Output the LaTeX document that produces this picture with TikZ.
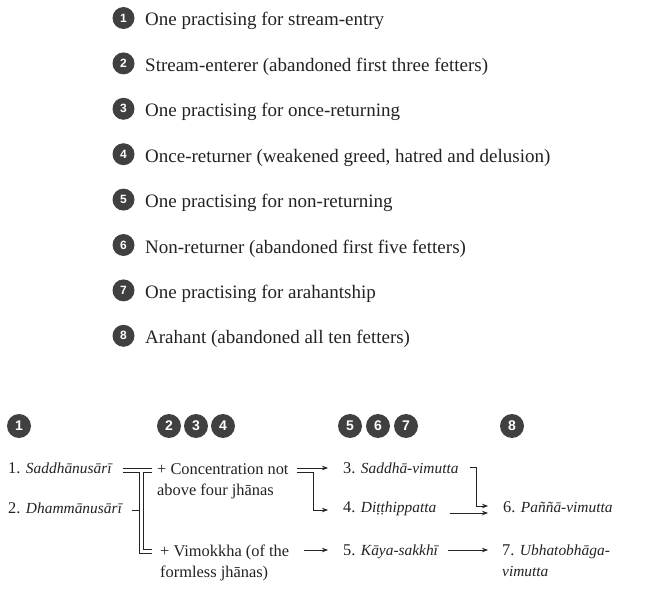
\documentclass[tikz,border=0pt]{standalone}
\usepackage{fontspec}
\setmainfont{Liberation Serif}[ItalicFeatures={Scale=0.94}]
\newfontfamily\numfont{Liberation Sans}
\usetikzlibrary{arrows.meta,calc}
\definecolor{badge}{HTML}{404040}
\definecolor{ink}{HTML}{222222}

\begin{document}
\begin{tikzpicture}[x=1pt,y=-1pt,
  num/.style={circle,fill=badge,text=white,inner sep=0pt,minimum size=22pt,
    font=\numfont\bfseries\fontsize{12}{12}\selectfont},
  bignum/.style={num,minimum size=24pt,font=\numfont\bfseries\fontsize{14}{14}\selectfont},
  item/.style={anchor=base west,inner sep=0pt,text=ink,font=\fontsize{19}{22}\selectfont},
  term/.style={anchor=base west,inner sep=0pt,align=left,text=ink,font=\fontsize{16.4}{21}\selectfont},
  wire/.style={line width=0.8pt,draw=ink},
  link/.style={wire,-{Stealth[length=6pt,width=4.5pt]}}]
\useasboundingbox (0,0) rectangle (657,610);

% the eight stages
\foreach \txt [count=\i] in {One practising for stream-entry,
    Stream-enterer (abandoned first three fetters),
    One practising for once-returning,
    {Once-returner (weakened greed, hatred and delusion)},
    One practising for non-returning,
    Non-returner (abandoned first five fetters),
    One practising for arahantship,
    Arahant (abandoned all ten fetters)}{
  \node[num] (s\i) at (123.5,{18+45.4*(\i-1)}) {\i};
  \node[item] (t\i) at (145,{26+45.4*(\i-1)}) {\txt};
}

% stage numbers over the columns
\foreach \n/\x in {1/19,2/169,3/196,4/223,5/350,6/378,7/406,8/512}
  \node[bignum] (b\n) at (\x,426) {\n};

% the seven persons (base = last line)
\node[term] (saddha) at (8,473) {1. \textit{Saddhānusārī}};
\node[term] (dhamma) at (8,513) {2. \textit{Dhammānusārī}};
\node[term] (conc) at (157,495) {+ Concentration not\\above four jhānas};
\node[term] (vimok) at (160,577) {+ Vimokkha (of the\\formless jhānas)};
\node[term] (sv) at (343,473) {3. \textit{Saddhā-vimutta}};
\node[term] (ditthi) at (343,512) {4. \textit{Diṭṭhippatta}};
\node[term] (kaya) at (343,555) {5. \textit{Kāya-sakkhī}};
\node[term] (panna) at (503,512) {6. \textit{Paññā-vimutta}};
\node[term] (ubhato) at (502,576) {7. \textit{Ubhatobhāga-}\\\textit{vimutta}};

% left bracket
\coordinate (j1) at ([xshift=10pt,yshift=2.5pt]saddha.base east);
\coordinate (j3) at ($(j1 -| conc.west)+(-5,0)$);
\coordinate (j2) at ([xshift=-8pt,yshift=25.5pt]vimok.base west);
\coordinate (d1) at ([xshift=9pt,yshift=3pt]dhamma.base east);
\draw[wire] (d1) -- ($(d1 -| j3)+(-13,0)$);
\draw[wire] ($(j1)+(0,-2)$) -- ($(j3)+(0,-2)$);
\draw[wire] ($(j1)+(0,2)$) -- ($(j3)+(-13,2)$) |- ($(j2)+(0,2)$);
\draw[wire] ($(j3)+(0,2)$) -- ($(j3)+(-9,2)$) |- ($(j2)+(0,-2)$);

% to the middle column
\coordinate (c1) at ([yshift=5pt]sv.base west);
\coordinate (c2) at ([yshift=2pt]ditthi.base west);
\coordinate (c3) at ([yshift=5pt]kaya.base west);
\draw[link,shorten <=8pt,shorten >=15pt] (c1 -| conc.east) -- (c1);
\draw[link,shorten >=15pt] ($(c1 -| conc.east)+(8,4.5)$) -- ++(17,0) |- (c2);
\draw[link,shorten <=15pt,shorten >=15pt] (c3 -| vimok.east) -- (c3);

% to the right column
\coordinate (p1) at ([yshift=6pt]panna.base west);
\coordinate (p2) at ([yshift=-1pt]panna.base west);
\coordinate (u1) at ([yshift=26pt]ubhato.base west);
\draw[link,shorten >=15pt] ([xshift=11pt,yshift=6pt]sv.base east) -| ($(p1)+(-27,0)$) -- (p1);
\draw[link,shorten <=13pt,shorten >=15pt] (p2 -| ditthi.east) -- (p2);
\draw[link,shorten <=9pt,shorten >=14pt] (u1 -| kaya.east) -- (u1);
\end{tikzpicture}
\end{document}
